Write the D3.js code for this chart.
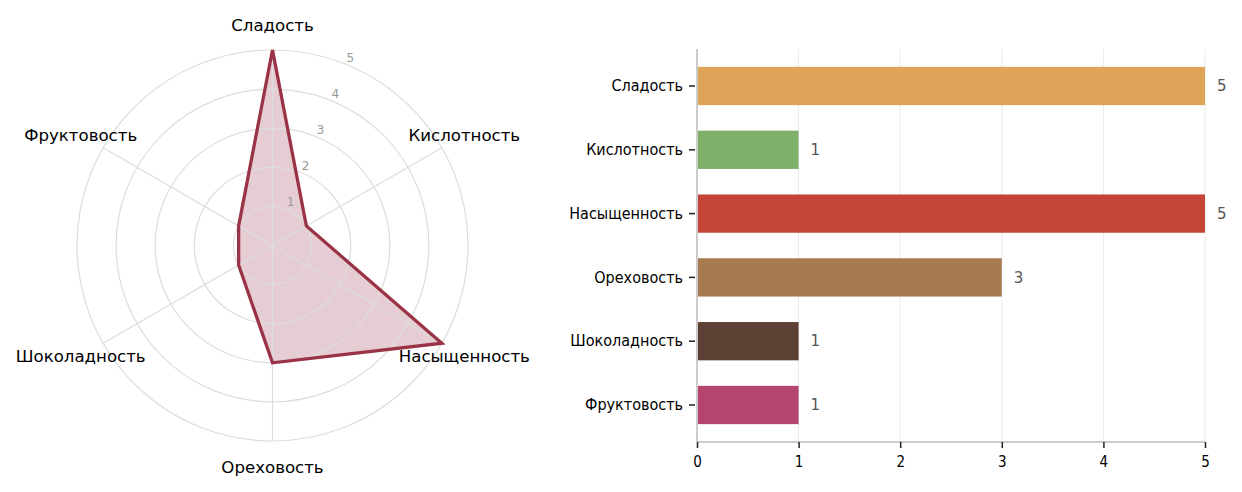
<!DOCTYPE html>
<html>
<head>
<meta charset="utf-8">
<script src="https://cdn.jsdelivr.net/npm/d3@7"></script>
<style>
  body { margin: 0; background: #fff; }
  svg { display: block; }
</style>
</head>
<body>
<div id="chart"></div>
<script>
// данные
const categories = ["Сладость", "Кислотность", "Насыщенность", "Ореховость", "Шоколадность", "Фруктовость"];
const values = [5, 1, 5, 3, 1, 1];
const barColors = ["#e0a458", "#7fb069", "#c44536", "#a67b4f", "#5c4033", "#b5446e"];
const radialTicks = [1, 2, 3, 4, 5];
const xTicks = [0, 1, 2, 3, 4, 5];

const width = 1242, height = 492;

const svg = d3.select("#chart").append("svg")
  .attr("width", width)
  .attr("height", height);

// ---- радар ----
const cx = 272.5, cy = 245.5, R = 195.5;
const r = d3.scaleLinear().domain([0, 5]).range([0, R]);
const angle = (i) => (i / categories.length) * 2 * Math.PI; // от верха по часовой

const radar = svg.append("g").attr("transform", `translate(${cx},${cy})`);

const line = d3.lineRadial()
  .angle((d, i) => angle(i))
  .radius((d) => r(d))
  .curve(d3.curveLinearClosed);

// заливка под сеткой, контур поверх
radar.append("path")
  .datum(values)
  .attr("d", line)
  .attr("fill", "#e6cdd3")
  .attr("stroke", "none");

radar.selectAll("circle.ring")
  .data(radialTicks)
  .enter()
  .append("circle")
  .attr("r", (d) => r(d))
  .attr("fill", "none")
  .attr("stroke", "#dddddd")
  .attr("stroke-width", 1.2);

radar.selectAll("line.spoke")
  .data(categories)
  .enter()
  .append("line")
  .attr("x1", 0).attr("y1", 0)
  .attr("x2", (d, i) => r(5) * Math.sin(angle(i)))
  .attr("y2", (d, i) => -r(5) * Math.cos(angle(i)))
  .attr("stroke", "#dddddd")
  .attr("stroke-width", 1.2);

radar.append("path")
  .datum(values)
  .attr("d", line)
  .attr("fill", "none")
  .attr("stroke", "#9b3347")
  .attr("stroke-width", 3.3)
  .attr("stroke-linejoin", "miter");

const labelAng = 22.5 * Math.PI / 180;
radar.selectAll("text.rtick")
  .data(radialTicks)
  .enter()
  .append("text")
  .attr("x", (d) => (r(d) + 8) * Math.sin(labelAng))
  .attr("y", (d) => -(r(d) + 8) * Math.cos(labelAng))
  .attr("dy", "0.35em")
  .attr("text-anchor", "middle")
  .attr("font-family", "DejaVu Sans")
  .attr("font-size", 12)
  .attr("fill", "#999")
  .text((d) => d);

radar.selectAll("text.cat")
  .data(categories)
  .enter()
  .append("text")
  .attr("x", (d, i) => (R + 26) * Math.sin(angle(i)))
  .attr("y", (d, i) => -(R + 26) * Math.cos(angle(i)) + (i === 0 ? 1.5 : 0))
  .attr("dy", "0.35em")
  .attr("text-anchor", "middle")
  .attr("font-family", "DejaVu Sans")
  .attr("font-size", 16.6)
  .attr("fill", "#000")
  .text((d) => d);

// ---- столбцы ----
const plotLeft = 697, plotRight = 1205, plotTop = 49, plotBottom = 442;

const x = d3.scaleLinear().domain([0, 5]).range([plotLeft, plotRight]);
const y = d3.scaleBand()
  .domain(categories)
  .range([plotTop, plotBottom])
  .paddingInner(0.4)
  .paddingOuter(0.28);

const bars = svg.append("g");

bars.selectAll("line.grid")
  .data(xTicks.slice(1))
  .enter()
  .append("line")
  .attr("x1", (d) => x(d)).attr("x2", (d) => x(d))
  .attr("y1", plotTop).attr("y2", plotBottom)
  .attr("stroke", "#ebebeb")
  .attr("stroke-width", 1);

bars.selectAll("rect")
  .data(values)
  .enter()
  .append("rect")
  .attr("x", x(0))
  .attr("y", (d, i) => y(categories[i]))
  .attr("width", (d) => x(d) - x(0))
  .attr("height", y.bandwidth())
  .attr("fill", (d, i) => barColors[i]);

bars.selectAll("text.val")
  .data(values)
  .enter()
  .append("text")
  .attr("x", (d) => x(d) + 12)
  .attr("y", (d, i) => y(categories[i]) + y.bandwidth() / 2)
  .attr("dy", "0.35em")
  .attr("font-family", "DejaVu Sans")
  .attr("font-size", 15)
  .attr("fill", "#555")
  .text((d) => d);

const xAxis = bars.append("g")
  .attr("transform", `translate(0,${plotBottom})`)
  .call(d3.axisBottom(x).tickValues(xTicks).tickSize(6).tickPadding(8).tickFormat(d3.format("d")))
  .attr("font-family", "DejaVu Sans Condensed, DejaVu Sans")
  .attr("font-size", 15);
xAxis.select(".domain").attr("stroke", "#cccccc").attr("stroke-width", 2).attr("d", `M${plotLeft},0H${plotRight}`);
xAxis.selectAll(".tick line").attr("stroke", "#222").attr("stroke-width", 1.5);
xAxis.selectAll(".tick text").attr("fill", "#000");

const yAxis = bars.append("g")
  .attr("transform", `translate(${plotLeft},0)`)
  .call(d3.axisLeft(y).tickSize(6).tickPadding(7))
  .attr("font-family", "DejaVu Sans Condensed, DejaVu Sans")
  .attr("font-size", 16);
yAxis.select(".domain").attr("stroke", "#cccccc").attr("stroke-width", 2).attr("d", `M0,${plotTop}V${plotBottom}`);
yAxis.selectAll(".tick line").attr("stroke", "#222").attr("stroke-width", 1.5).attr("x1", -2).attr("x2", -8);
yAxis.selectAll(".tick text").attr("x", -14).attr("fill", "#000");
</script>
</body>
</html>
